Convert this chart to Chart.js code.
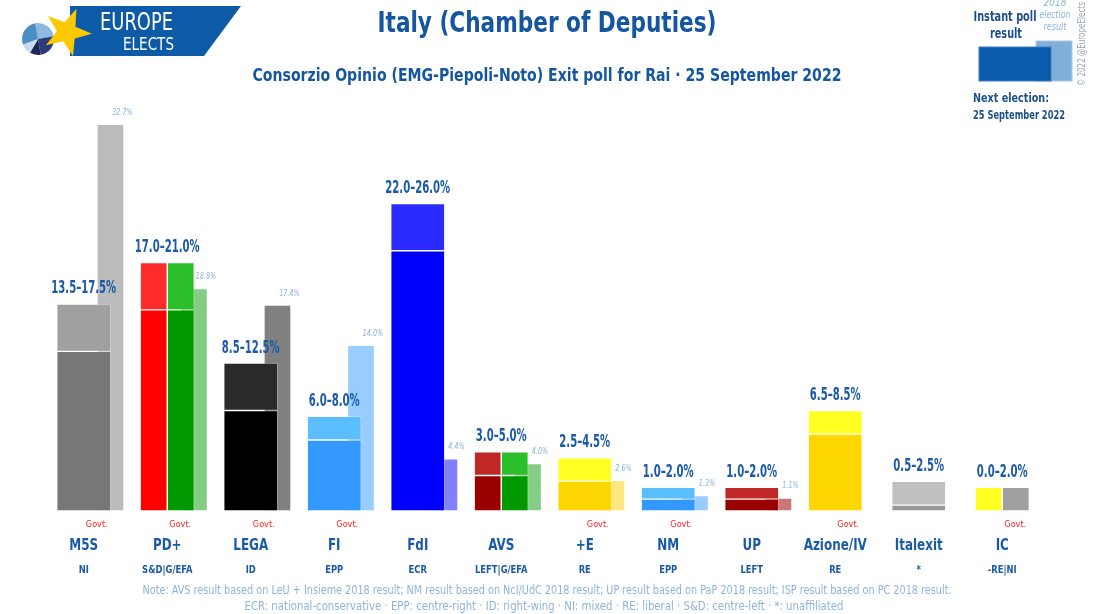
<!DOCTYPE html>
<html>
<head>
<meta charset="utf-8">
<script src="https://cdn.jsdelivr.net/npm/chart.js@4.4.1/dist/chart.umd.min.js"></script>
<style>
  body { margin: 0; background: #fff; }
  #wrap { position: relative; width: 1113px; height: 614px; overflow: hidden; }
  #wrap canvas, #wrap svg { position: absolute; left: 0; top: 0; }
  svg text { font-family: 'Liberation Sans Narrow', 'DejaVu Sans Condensed', sans-serif; }
</style>
</head>
<body>
<div id="wrap">
  <canvas id="chart"></canvas>
  <svg id="deco" width="1113" height="614">
    <polygon points="70,6 241,6 204,56 70,56" fill="#0d5aa7"/>
    <g id="pie"></g>
    <polygon id="star" fill="#fcc800"/>
    <text x="100" y="30" fill="#fff" font-size="24" textLength="73" lengthAdjust="spacingAndGlyphs">EUROPE</text>
    <text x="123" y="50" fill="#fff" font-size="17" textLength="51" lengthAdjust="spacingAndGlyphs">ELECTS</text>

    <text x="547" y="32" fill="#1556a0" font-size="29" font-weight="bold" text-anchor="middle" textLength="339" lengthAdjust="spacingAndGlyphs">Italy (Chamber of Deputies)</text>
    <text x="547" y="81" fill="#1556a0" font-size="17" font-weight="bold" text-anchor="middle" textLength="589" lengthAdjust="spacingAndGlyphs">Consorzio Opinio (EMG-Piepoli-Noto) Exit poll for Rai · 25 September 2022</text>

    <text x="1055" y="6" fill="#8cb3de" font-size="10" font-style="italic" text-anchor="middle">2018</text>
    <text x="1055" y="18" fill="#8cb3de" font-size="10" font-style="italic" text-anchor="middle" textLength="31" lengthAdjust="spacingAndGlyphs">election</text>
    <text x="1055" y="30" fill="#8cb3de" font-size="10" font-style="italic" text-anchor="middle" textLength="23" lengthAdjust="spacingAndGlyphs">result</text>
    <text x="1005" y="21" fill="#1c4f8c" font-size="14" font-weight="bold" text-anchor="middle" textLength="63" lengthAdjust="spacingAndGlyphs">Instant poll</text>
    <text x="1006" y="38" fill="#1c4f8c" font-size="14" font-weight="bold" text-anchor="middle" textLength="32" lengthAdjust="spacingAndGlyphs">result</text>
    <rect x="1036" y="41" width="36" height="40" fill="#80afd9" stroke="#a9c9e8" stroke-width="1"/>
    <rect x="979" y="47" width="72" height="34" fill="#0a5bab" stroke="#3d7cc0" stroke-width="1"/>
    <text x="973" y="102" fill="#1c4f8c" font-size="13" font-weight="bold" textLength="76" lengthAdjust="spacingAndGlyphs">Next election:</text>
    <text x="973" y="119" fill="#1c4f8c" font-size="12" font-weight="bold" textLength="92" lengthAdjust="spacingAndGlyphs">25 September 2022</text>
    <text transform="translate(1085,44) rotate(-90)" fill="#9aa3b8" font-size="10" text-anchor="middle" textLength="84" lengthAdjust="spacingAndGlyphs">© 2022 @EuropeElects</text>

    <text x="547" y="594" fill="#8fb4dc" font-size="12" text-anchor="middle" textLength="809" lengthAdjust="spacingAndGlyphs">Note: AVS result based on LeU + Insieme 2018 result; NM result based on NcI/UdC 2018 result; UP result based on PaP 2018 result; ISP result based on PC 2018 result.</text>
    <text x="544" y="610" fill="#8fb4dc" font-size="12" text-anchor="middle" textLength="599" lengthAdjust="spacingAndGlyphs">ECR: national-conservative · EPP: centre-right · ID: right-wing · NI: mixed · RE: liberal · S&amp;D: centre-left · *: unaffiliated</text>
  </svg>
</div>
<script>
// poll data
const parties = ['M5S', 'PD+', 'LEGA', 'FI', 'FdI', 'AVS', '+E', 'NM', 'UP', 'Azione/IV', 'Italexit', 'IC'];
const groups = ['NI', 'S&D|G/EFA', 'ID', 'EPP', 'ECR', 'LEFT|G/EFA', 'RE', 'EPP', 'LEFT', 'RE', '*', '-RE|NI'];
const govt = [true, true, true, true, false, false, true, true, false, true, false, true];
const pollLow = [13.5, 17.0, 8.5, 6.0, 22.0, 3.0, 2.5, 1.0, 1.0, 6.5, 0.5, 0.0];
const pollHigh = [17.5, 21.0, 12.5, 8.0, 26.0, 5.0, 4.5, 2.0, 2.0, 8.5, 2.5, 2.0];
const result2018 = [32.7, 18.8, 17.4, 14.0, 4.4, 4.0, 2.6, 1.3, 1.1, null, null, null];

// colours
const lowColors = ['#777777', '#ff0000', '#000000', '#3399ff', '#0000ff', '#990000', '#ffd700', '#3399ff', '#990000', '#ffd700', '#999999', '#ffff22'];
const highColors = ['#a0a0a0', '#ff2b2b', '#2a2a2a', '#5bbfff', '#2b2bff', '#c02828', '#ffff22', '#5bbfff', '#c02828', '#ffff22', '#c0c0c0', '#ffff22'];
const lowRight = [null, '#009900', null, null, null, '#009900', null, null, null, null, null, '#a0a0a0'];
const highRight = [null, '#2bc02b', null, null, null, '#2bc02b', null, null, null, null, null, '#a0a0a0'];
const oldColors = ['#bbbbbb', '#85cc85', '#808080', '#99ccff', '#8080ff', '#85cc85', '#ffe680', '#99ccff', '#cc7777', null, null, null];

const FONT = "'Liberation Sans Narrow', 'DejaVu Sans Condensed', sans-serif";
const BLUE = '#1a5aa6';
const OLD_SHIFT = 0.32;
const HALF_SHIFT = 0.162;

// logo bits
(function () {
    const pie = document.getElementById('pie');
    const slices = [[-100, -10, '#8fb9df'], [-10, 80, '#2b3b7e'], [80, 120, '#1d2656'], [120, 160, '#c8dcef'], [160, 260, '#4b8fc5']];
    const cx = 38, cy = 39, r = 16;
    slices.forEach(([a0, a1, col]) => {
        const p = a => [cx + r * Math.cos(a * Math.PI / 180), cy + r * Math.sin(a * Math.PI / 180)];
        const [x0, y0] = p(a0), [x1, y1] = p(a1);
        const path = document.createElementNS('http://www.w3.org/2000/svg', 'path');
        path.setAttribute('d', `M${cx},${cy} L${x0},${y0} A${r},${r} 0 ${a1 - a0 > 180 ? 1 : 0} 1 ${x1},${y1} Z`);
        path.setAttribute('fill', col);
        pie.appendChild(path);
    });
    let pts = [];
    for (let k = 0; k < 10; k++) {
        const a = (-68 + k * 36) * Math.PI / 180;
        const rr = k % 2 ? 10 : 25;
        pts.push((67 + rr * Math.cos(a)).toFixed(1) + ',' + (32 + rr * Math.sin(a)).toFixed(1));
    }
    document.getElementById('star').setAttribute('points', pts.join(' '));
})();

const isSplit = i => lowRight[i] !== null;

function barSet(getY, shift, colors, thickness, order) {
    return {
        data: parties.map((p, i) => ({ x: i + shift, y: getY(i) })),
        backgroundColor: colors,
        borderColor: 'rgba(255,255,255,0.3)',
        borderWidth: 1,
        borderSkipped: false,
        barThickness: thickness,
        grouped: false,
        order: order
    };
}

const datasets = [
    // whole bars
    barSet(i => isSplit(i) || pollLow[i] === 0 ? null : [0, pollLow[i]], 0, lowColors, 54, 0),
    barSet(i => isSplit(i) ? null : [pollLow[i], pollHigh[i]], 0, highColors, 54, 0),
    // split bars (alliances)
    barSet(i => !isSplit(i) || pollLow[i] === 0 ? null : [0, pollLow[i]], -HALF_SHIFT, lowColors, 27, 0),
    barSet(i => !isSplit(i) ? null : [pollLow[i], pollHigh[i]], -HALF_SHIFT, highColors, 27, 0),
    barSet(i => !isSplit(i) || pollLow[i] === 0 ? null : [0, pollLow[i]], HALF_SHIFT, lowRight, 27, 0),
    barSet(i => !isSplit(i) ? null : [pollLow[i], pollHigh[i]], HALF_SHIFT, highRight, 27, 0),
    // 2018 result, behind
    barSet(i => result2018[i] === null ? null : [0, result2018[i]], OLD_SHIFT, oldColors, 27, 5)
];

// narrow-ish text: squeeze horizontally
function squeezeText(ctx, text, x, y, font, color, sx) {
    ctx.save();
    ctx.font = font;
    ctx.fillStyle = color;
    ctx.translate(x, y);
    ctx.scale(sx, 1);
    ctx.fillText(text, 0, 0);
    ctx.restore();
}

const labelPlugin = {
    id: 'partyLabels',
    afterDatasetsDraw(chart) {
        const { ctx, scales: { x, y } } = chart;
        const base = y.getPixelForValue(0);
        ctx.save();
        ctx.textAlign = 'center';
        ctx.textBaseline = 'middle';
        parties.forEach((p, i) => {
            const cx = x.getPixelForValue(i);
            squeezeText(ctx, pollLow[i].toFixed(1) + '–' + pollHigh[i].toFixed(1) + '%', cx, y.getPixelForValue(pollHigh[i]) - 15,
                `bold 17px ${FONT}`, BLUE, 0.66);

            if (result2018[i] !== null) {
                squeezeText(ctx, result2018[i].toFixed(1) + '%', x.getPixelForValue(i + OLD_SHIFT) + 12, y.getPixelForValue(result2018[i]) - 12,
                    `italic 9px ${FONT}`, '#8cb3de', 0.8);
            }
            if (govt[i]) {
                squeezeText(ctx, 'Govt.', cx + 13, base + 14, `9px ${FONT}`, '#ff2020', 1);
            }
            squeezeText(ctx, p, cx, base + 35, `bold 16px ${FONT}`, BLUE, 0.83);
            squeezeText(ctx, groups[i], cx, base + 59, `bold 11px ${FONT}`, BLUE, 0.85);
        });
        ctx.restore();
    }
};

new Chart(document.getElementById('chart'), {
    type: 'bar',
    data: { datasets: datasets },
    options: {
        responsive: true,
        maintainAspectRatio: false,
        animation: false,
        layout: { padding: { left: 42, right: 69, top: 97, bottom: 103 } },
        scales: {
            x: { type: 'linear', min: -0.5, max: 11.5, offset: false, display: false },
            y: { min: 0, max: 35, display: false }
        },
        plugins: {
            legend: { display: false },
            title: { display: false },
            tooltip: { enabled: false }
        }
    },
    plugins: [labelPlugin]
});
</script>
</body>
</html>
